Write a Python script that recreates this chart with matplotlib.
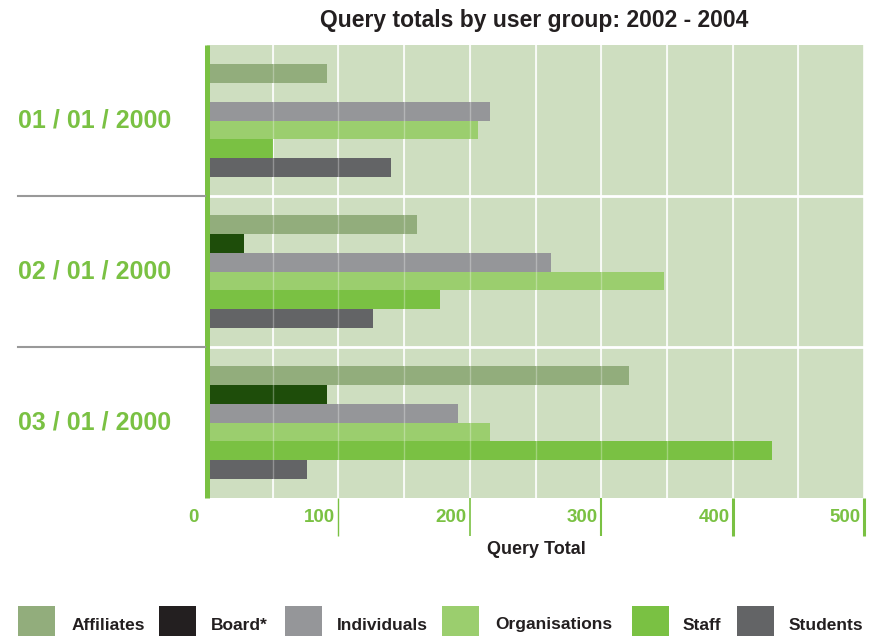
import matplotlib
matplotlib.use("Agg")
import matplotlib.pyplot as plt
import matplotlib.transforms as mtransforms
from matplotlib.patches import Rectangle
from matplotlib.lines import Line2D

# ---- data ----
groups = ["01 / 01 / 2000", "02 / 01 / 2000", "03 / 01 / 2000"]
series = ["Affiliates", "Board*", "Individuals", "Organisations", "Staff", "Students"]
affiliates = [91, 160, 321]
board = [0, 28, 91]
individuals = [215, 262, 191]
organisations = [206, 348, 215]
staff = [50, 177, 430]
students = [140, 126, 76]
values = [affiliates, board, individuals, organisations, staff, students]
xticks = [0, 100, 200, 300, 400, 500]

bar_colors = ["#92AD7C", "#1E4D0A", "#959699", "#9BCE6E", "#7AC143", "#636466"]
legend_colors = ["#92AD7C", "#231F20", "#959699", "#9BCE6E", "#7AC143", "#636466"]
GREEN = "#7AC143"
BG = "#CEDEC0"

REG = ["Liberation Sans", "DejaVu Sans"]

W, H = 874, 636
fig = plt.figure(figsize=(W / 100, H / 100), dpi=100)
fig.patch.set_facecolor("white")

left_px, right_px, top_px, bot_px = 207, 864, 45, 498
ax = fig.add_axes([left_px / W, 1 - bot_px / H, (right_px - left_px) / W, (bot_px - top_px) / H])
ax.set_facecolor(BG)

slots = 8
ax.set_xlim(0, 500)
ax.set_ylim(slots * len(groups), 0)

# gridlines under bars
for v in range(50, 501, 50):
    ax.axvline(v, color="white", lw=1.2, zorder=1)

for i, (name, vals) in enumerate(zip(series, values)):
    ys = [g * slots + 1.5 + i for g in range(len(groups))]
    ax.barh(ys, vals, height=1.0, color=bar_colors[i], zorder=2, linewidth=0)

# faint gridlines over bars
for v in range(50, 501, 50):
    ax.axvline(v, color="white", lw=1.0, alpha=0.3, zorder=3)

# group separators
for g in range(1, len(groups)):
    ax.axhline(g * slots, color="white", lw=2.0, zorder=4)
    yfig = 1 - (top_px + (bot_px - top_px) * g / len(groups)) / H
    fig.add_artist(Line2D([18 / W, 205 / W], [yfig, yfig], color="#999999", lw=1.5))

for s in ["top", "right", "bottom"]:
    ax.spines[s].set_visible(False)
ax.spines["left"].set_color(GREEN)
ax.spines["left"].set_linewidth(3.6)
ax.spines["left"].set_capstyle("butt")
ax.spines["left"].set_zorder(5)

# y labels
ax.set_yticks([g * slots + slots / 2 for g in range(len(groups))])
ax.set_yticklabels([])
ax.tick_params(axis="y", length=0)
for g, lab in enumerate(groups):
    yfig = 1 - (top_px + (bot_px - top_px) * (g + 0.5) / len(groups)) / H
    fig.text(18 / W, yfig, lab, color=GREEN, fontsize=18, fontweight="bold",
             family=REG, ha="left", va="center")

# x ticks
ax.set_xticks(xticks[1:])
ax.set_xticklabels([])
ax.tick_params(axis="x", direction="out", length=27, color=GREEN, width=1.2)
widths = [1.0, 1.2, 1.5, 2.2, 2.2]
for t, w in zip(ax.xaxis.get_major_ticks(), widths):
    t.tick1line.set_markeredgewidth(w)

for v in xticks:
    dx = -8 if v == 0 else -3
    off = mtransforms.ScaledTranslation(dx / 100, -20 / 100, fig.dpi_scale_trans)
    ax.text(v, 0, str(v), transform=ax.get_xaxis_transform() + off, color=GREEN,
            fontsize=13.5, fontweight="bold", family=REG, ha="right", va="center")

fig.text(536 / W, 1 - 550 / H, "Query Total", fontsize=13, fontweight="bold",
         family=REG, ha="center", va="center", color="#231F20")
fig.text(534 / W, 1 - 20 / H, "Query totals by user group: 2002 - 2004", fontsize=16.5,
         fontweight="bold", family=REG, ha="center", va="center", color="#231F20")

# legend
patch_x = [18, 159, 285, 442, 632, 737]
text_x = [72, 211, 337, 495, 683, 789]
for i, name in enumerate(series):
    fig.add_artist(Rectangle((patch_x[i] / W, 0), 37 / W, 30 / H,
                             transform=fig.transFigure, color=legend_colors[i], lw=0))
    fig.text(text_x[i] / W, 1 - 625 / H, name, fontsize=12.5, fontweight="bold",
             family=REG, ha="left", va="center", color="#231F20")

fig.savefig("out.png", dpi=100, facecolor="white")
